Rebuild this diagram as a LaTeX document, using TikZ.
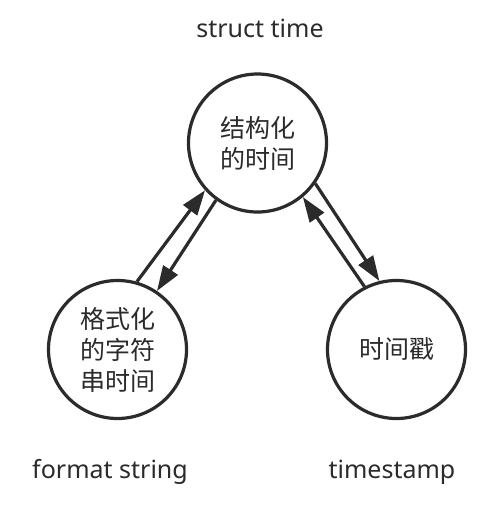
\documentclass[tikz,border=0pt]{standalone}
\usepackage{fontspec}
\setmainfont{Noto Sans}
\newfontfamily\cjk{Noto Sans CJK SC}
\usetikzlibrary{arrows.meta}
\definecolor{ink}{HTML}{2B2B2B}
\begin{document}
\begin{tikzpicture}[x=1pt,y=-1pt,
  state/.style={circle,draw=ink,line width=3.2pt,minimum size=138pt,inner sep=0pt,align=center,
    font=\cjk\fontsize{25}{31}\selectfont,text=ink},
  lbl/.style={font=\fontsize{25}{30}\selectfont,text=ink,anchor=base,inner sep=0pt},
  conn/.style={draw=ink,line width=3.2pt,-{Triangle[length=25pt 0,width=17pt 0]}}]
\useasboundingbox (0,0) rectangle (488,528);
\fill[white] (0,0) rectangle (488,528);
\node[state] (st) at (257.5,143) {结构化\\的时间};
\node[state] (fs) at (117.5,349.5) {格式化\\的字符\\串时间};
\node[state] (ts) at (396.5,349.5) {时间戳};
\node[lbl] (lst) at (260,37) {struct time};
\node[lbl] (lfs) at (110,478) {format string};
\node[lbl] (lts) at (392,478) {timestamp};
\draw[conn] (fs.74.3) -- (st.222.5);
\draw[conn] (st.234.2) -- (fs.56);
\draw[conn] (ts.117.4) -- (st.310.8);
\draw[conn] (st.325.2) -- (ts.104.1);
\end{tikzpicture}
\end{document}
